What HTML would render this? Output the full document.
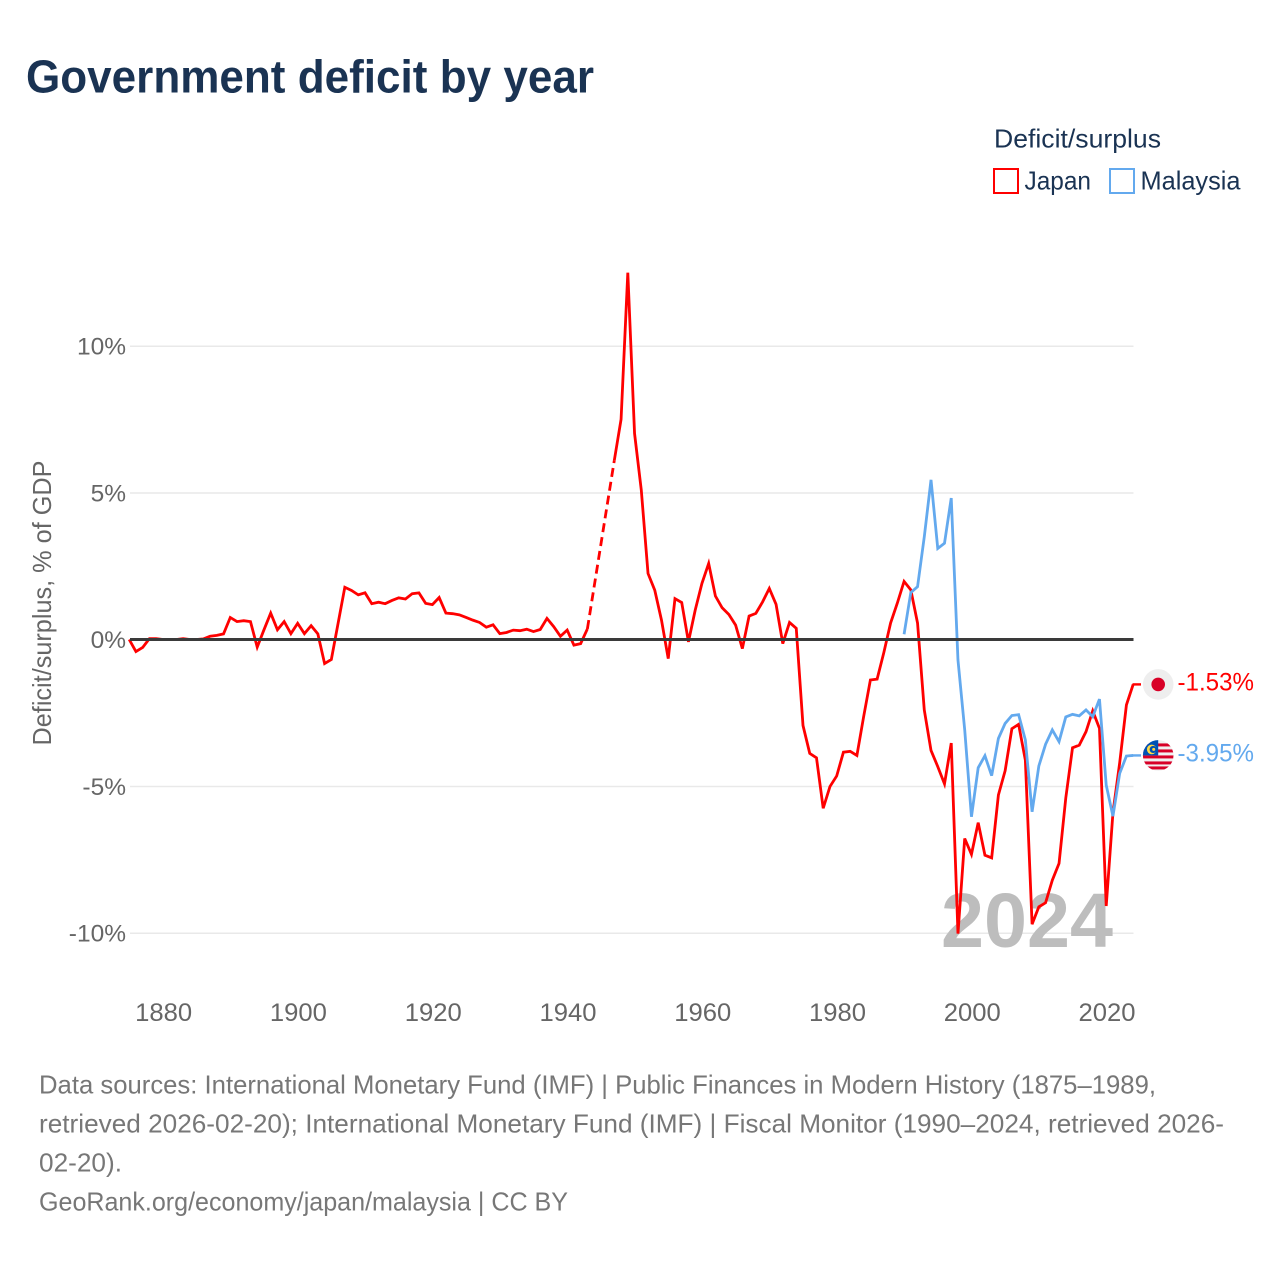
<!DOCTYPE html>
<html lang="en">
<head>
<meta charset="utf-8">
<title>Government deficit by year</title>
<style>
html,body{margin:0;padding:0;background:#fff;}
svg{display:block;font-family:"Liberation Sans",sans-serif;}
</style>
</head>
<body>
<svg id="chart" xmlns="http://www.w3.org/2000/svg" width="1280" height="1280" viewBox="0 0 1280 1280">
  <rect x="0" y="0" width="1280" height="1280" fill="#fff"/>
  <text x="26" y="92.5" font-size="46" font-weight="700" fill="#1a3353" textLength="568" lengthAdjust="spacingAndGlyphs">Government deficit by year</text>

  <g>
    <text x="994" y="147.5" font-size="26" fill="#1a3353" textLength="167" lengthAdjust="spacingAndGlyphs">Deficit/surplus</text>
    <g>
      <rect x="994" y="169" width="24" height="24" fill="none" stroke="#ff0000" stroke-width="2"/>
      <text x="1024.5" y="189.5" font-size="26" fill="#1a3353" textLength="66.5" lengthAdjust="spacingAndGlyphs">Japan</text>
    </g>
    <g>
      <rect x="1110" y="169" width="24" height="24" fill="none" stroke="#63a9ee" stroke-width="2"/>
      <text x="1140.5" y="189.5" font-size="26" fill="#1a3353" textLength="100" lengthAdjust="spacingAndGlyphs">Malaysia</text>
    </g>
  </g>

  <text transform="translate(51,603) rotate(-90)" text-anchor="middle" font-size="26" fill="#666" textLength="285" lengthAdjust="spacingAndGlyphs">Deficit/surplus, % of GDP</text>

  <g id="grid"></g>
  <g id="yticks"></g>
  <g id="xticks"></g>

  <text x="941" y="947" font-size="77" font-weight="700" fill="#bdbdbd" textLength="172" lengthAdjust="spacingAndGlyphs">2024</text>

  <g id="series"></g>
  <g id="zero"></g>
  <g id="ends"></g>

  <defs>
    <clipPath id="my-flag-clip"><circle cx="0" cy="0" r="15.3"/></clipPath>
  </defs>

  <g font-size="26" fill="#777">
    <text x="39" y="1093.5" textLength="1117" lengthAdjust="spacingAndGlyphs">Data sources: International Monetary Fund (IMF) | Public Finances in Modern History (1875–1989,</text>
    <text x="39" y="1132.5" textLength="1185" lengthAdjust="spacingAndGlyphs">retrieved 2026-02-20); International Monetary Fund (IMF) | Fiscal Monitor (1990–2024, retrieved 2026-</text>
    <text x="39" y="1171.5" textLength="83" lengthAdjust="spacingAndGlyphs">02-20).</text>
    <text x="39" y="1210.5" textLength="529" lengthAdjust="spacingAndGlyphs">GeoRank.org/economy/japan/malaysia | CC BY</text>
  </g>
</svg>

<script>
var yTickValues = [10, 5, 0, -5, -10];
var xTickYears = [1880, 1900, 1920, 1940, 1960, 1980, 2000, 2020];
var japanStartYear = 1875;
var japanValues = [
  0, -0.41, -0.27, 0.03, 0.03, 0, 0, 0, 0.03, 0, 0, 0.02,
  0.11, 0.14, 0.19, 0.75, 0.61, 0.64, 0.61, -0.26, 0.33, 0.90, 0.33, 0.61, 0.20,
  0.55, 0.20, 0.47, 0.19, -0.82, -0.68, 0.55, 1.78, 1.67, 1.52, 1.59, 1.22, 1.27,
  1.22, 1.33, 1.42, 1.38, 1.56, 1.59, 1.23, 1.19, 1.43, 0.90, 0.88, 0.84, 0.75,
  0.66, 0.58, 0.42, 0.50, 0.20, 0.24, 0.32, 0.30, 0.35, 0.27, 0.34, 0.72, 0.44,
  0.11, 0.32, -0.19, -0.14, 0.36, null, null, null, 6.11, 7.50, 12.50, 7.02, 5.09,
  2.25, 1.68, 0.66, -0.65, 1.39, 1.26, -0.08, 1.00, 1.91, 2.59, 1.48, 1.08, 0.85,
  0.49, -0.31, 0.80, 0.89, 1.28, 1.74, 1.20, -0.14, 0.58, 0.38, -2.93, -3.88, -4.03,
  -5.75, -5.01, -4.65, -3.84, -3.81, -3.95, -2.63, -1.38, -1.35, -0.44, 0.56, 1.24,
  1.98, 1.69, 0.56, -2.40, -3.78, -4.33, -4.92, -3.53, -10.02, -6.78, -7.32, -6.24,
  -7.35, -7.44, -5.30, -4.47, -3.04, -2.89, -4.11, -9.70, -9.11, -8.97, -8.20, -7.63,
  -5.40, -3.69, -3.60, -3.14, -2.43, -3.03, -9.08, -5.90, -4.20, -2.23, -1.53
];
var malaysiaStartYear = 1990;
var malaysiaValues = [
  0.18, 1.60, 1.80, 3.50, 5.44, 3.10, 3.28, 4.82, -0.70, -3.08, -6.04, -4.37, -3.96,
  -4.64, -3.37, -2.86, -2.59, -2.56, -3.42, -5.87, -4.31, -3.57, -3.08, -3.48, -2.64,
  -2.55, -2.60, -2.40, -2.63, -2.03, -4.96, -6.02, -4.56, -3.97, -3.95
];

var NS = 'http://www.w3.org/2000/svg';
var PLOT_LEFT = 130, PLOT_RIGHT = 1133.5;
function xScale(year) { return 129.2 + (year - 1875) * 6.738; }
function yScale(v) { return 639.5 - v * 29.35; }
function mk(tag, parent) {
  var el = document.createElementNS(NS, tag);
  parent.appendChild(el);
  return el;
}
function fmtPct(v) { return v.toFixed(2) + '%'; }

var gridG = document.getElementById('grid');
var yG = document.getElementById('yticks');
var xG = document.getElementById('xticks');
var seriesG = document.getElementById('series');
var zeroG = document.getElementById('zero');
var endsG = document.getElementById('ends');

yTickValues.forEach(function (v) {
  if (v !== 0) {
    var g = mk('line', gridG);
    
    
    g.setAttribute('x1', PLOT_LEFT);
    g.setAttribute('x2', PLOT_RIGHT);
    g.setAttribute('y1', yScale(v) + 0.3);
    g.setAttribute('y2', yScale(v) + 0.3);
    g.setAttribute('stroke', '#e9e9e9');
    g.setAttribute('stroke-width', '1.5');
  }
  var t = mk('text', yG);
  
  
  t.setAttribute('x', 126);
  t.setAttribute('y', yScale(v) + 8.5);
  t.setAttribute('text-anchor', 'end');
  t.setAttribute('font-size', '24.5');
  t.setAttribute('fill', '#666');
  t.textContent = v + '%';
});

xTickYears.forEach(function (yr) {
  var t = mk('text', xG);
  
  
  t.setAttribute('x', xScale(yr) + 0.8);
  t.setAttribute('y', 1021);
  t.setAttribute('text-anchor', 'middle');
  t.setAttribute('font-size', '25');
  t.setAttribute('fill', '#666');
  t.setAttribute('textLength', '57');
  t.setAttribute('lengthAdjust', 'spacingAndGlyphs');
  t.textContent = yr;
});

function drawSeries(name, color, startYear, values) {
  var solid = '', dashed = '', pen = false, last = null;
  values.forEach(function (v, i) {
    if (v === null) { pen = false; return; }
    var px = xScale(startYear + i).toFixed(2) + ' ' + yScale(v).toFixed(2);
    if (!pen && last !== null) { dashed += 'M' + last + ' L' + px + ' '; }
    solid += (pen ? 'L' : 'M') + px + ' ';
    pen = true;
    last = px;
  });
  var s = mk('path', seriesG);
  
  
  s.setAttribute('d', solid);
  s.setAttribute('fill', 'none');
  s.setAttribute('stroke', color);
  s.setAttribute('stroke-width', '2.8');
  s.setAttribute('stroke-linejoin', 'miter');
  s.setAttribute('stroke-miterlimit', '4');
  if (dashed) {
    var d = mk('path', seriesG);
    
    
    d.setAttribute('d', dashed);
    d.setAttribute('fill', 'none');
    d.setAttribute('stroke', color);
    d.setAttribute('stroke-width', '2.8');
    d.setAttribute('stroke-dasharray', '9 5');
  }
}
drawSeries('japan', '#ff0000', japanStartYear, japanValues);
drawSeries('malaysia', '#63a9ee', malaysiaStartYear, malaysiaValues);

var z = mk('line', zeroG);


z.setAttribute('x1', PLOT_LEFT);
z.setAttribute('x2', PLOT_RIGHT);
z.setAttribute('y1', yScale(0));
z.setAttribute('y2', yScale(0));
z.setAttribute('stroke', '#3a3a3a');
z.setAttribute('stroke-width', '3');

function drawEnd(name, color, values, drawFlag) {
  var v = values[values.length - 1];
  var y = yScale(v);
  var l = mk('line', endsG);
  
  
  l.setAttribute('x1', PLOT_RIGHT - 1);
  l.setAttribute('x2', 1141);
  l.setAttribute('y1', y);
  l.setAttribute('y2', y);
  l.setAttribute('stroke', color);
  l.setAttribute('stroke-width', '2.4');
  var g = mk('g', endsG);
  
  
  g.setAttribute('transform', 'translate(1158.2 ' + y + ')');
  drawFlag(g);
  var t = mk('text', endsG);
  
  
  t.setAttribute('x', 1177.5);
  t.setAttribute('y', y + 6);
  t.setAttribute('font-size', '25');
  t.setAttribute('fill', color);
  t.setAttribute('textLength', '76.5');
  t.setAttribute('lengthAdjust', 'spacingAndGlyphs');
  t.textContent = fmtPct(v);
}

drawEnd('japan', '#ff0000', japanValues, function (g) {
  var c = mk('circle', g);
  c.setAttribute('r', '15.3');
  c.setAttribute('fill', '#eeeeee');
  var d = mk('circle', g);
  d.setAttribute('r', '6.8');
  d.setAttribute('fill', '#d80027');
});

drawEnd('malaysia', '#63a9ee', malaysiaValues, function (g) {
  var fg = mk('g', g);
  fg.setAttribute('clip-path', 'url(#my-flag-clip)');
  var bg = mk('rect', fg);
  bg.setAttribute('x', -16);
  bg.setAttribute('y', -16);
  bg.setAttribute('width', 32);
  bg.setAttribute('height', 32);
  bg.setAttribute('fill', '#f0f0f0');
  [-12, -6, 0, 6, 11].forEach(function (sy) {
    var r = mk('rect', fg);
    r.setAttribute('x', -16);
    r.setAttribute('y', sy);
    r.setAttribute('width', 32);
    r.setAttribute('height', 3);
    r.setAttribute('fill', '#d80027');
  });
  var canton = mk('rect', fg);
  canton.setAttribute('x', -16);
  canton.setAttribute('y', -16);
  canton.setAttribute('width', 16);
  canton.setAttribute('height', 16);
  canton.setAttribute('fill', '#0052b4');
  var moon = mk('circle', fg);
  moon.setAttribute('cx', -6.5);
  moon.setAttribute('cy', -6);
  moon.setAttribute('r', 4.8);
  moon.setAttribute('fill', '#ffda44');
  var moonCut = mk('circle', fg);
  moonCut.setAttribute('cx', -5);
  moonCut.setAttribute('cy', -6);
  moonCut.setAttribute('r', 3.6);
  moonCut.setAttribute('fill', '#0052b4');
  var star = mk('circle', fg);
  star.setAttribute('cx', -4.5);
  star.setAttribute('cy', -6);
  star.setAttribute('r', 1.5);
  star.setAttribute('fill', '#ffda44');
});
</script>
</body>
</html>
